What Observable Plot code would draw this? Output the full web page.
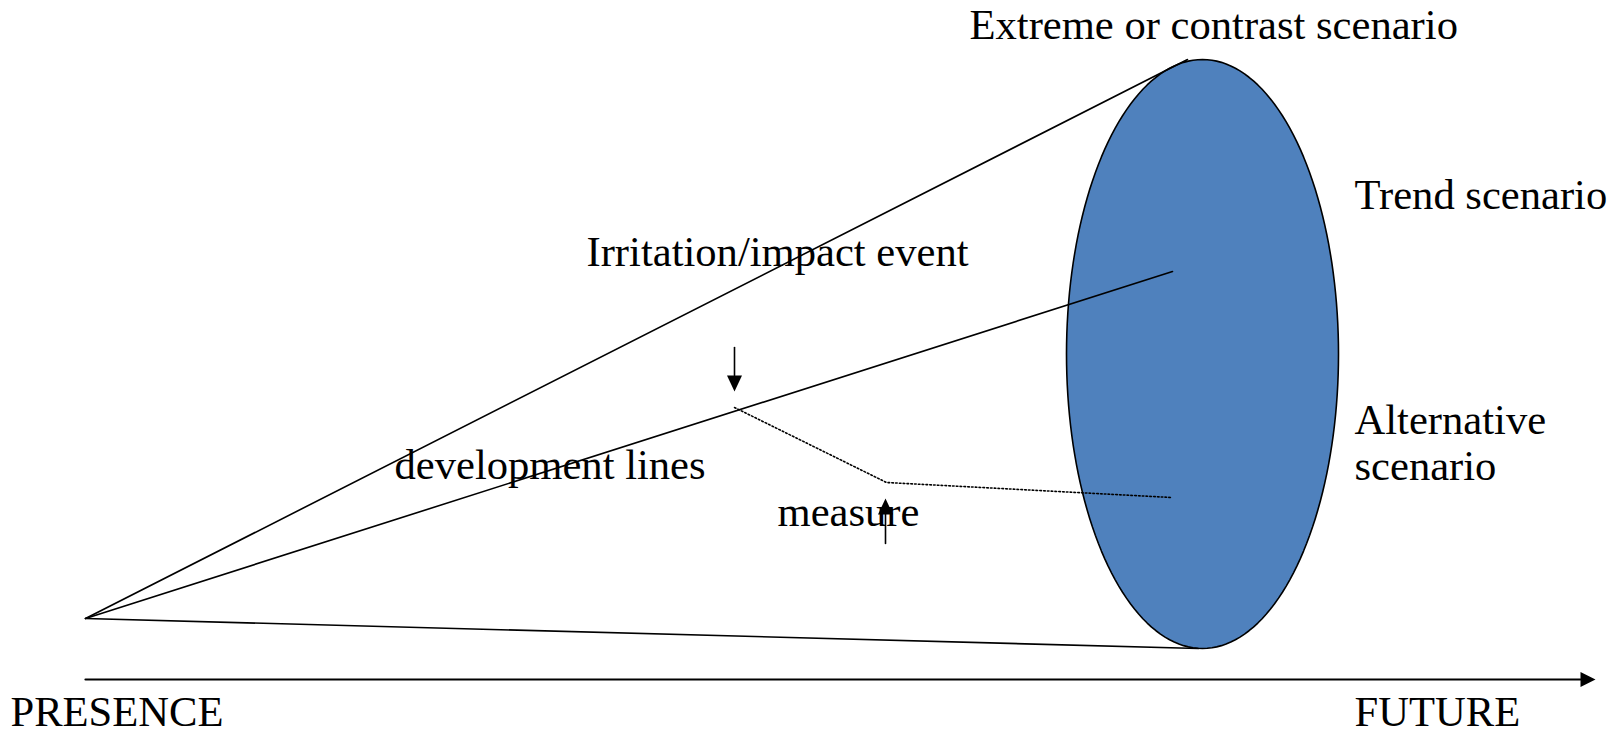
<!DOCTYPE html>
<html>
<head>
<meta charset="utf-8">
<script src="https://cdn.jsdelivr.net/npm/d3@7"></script>
<script src="https://cdn.jsdelivr.net/npm/@observablehq/plot@0.6"></script>
<style>
  html, body { margin: 0; padding: 0; background: #fff; }
  #chart svg { display: block; }
</style>
</head>
<body>
<div id="chart"></div>
<script>
// ---- Diagram data (diagram units) ----
const presence = { x: 85, y: 618 };                       // starting point: the present
const scenarioEnds = [                                     // where the development lines end
  { name: "Extreme or contrast scenario", x: 1187, y: 59 },
  { name: "Trend scenario",               x: 1172, y: 271 },
  { name: "Lower bound",                  x: 1198, y: 648 }
];
const disturbedPath = [                                    // disturbed development (dotted)
  { x: 734, y: 407 },
  { x: 886, y: 482 },
  { x: 1171, y: 497 }
];
const futureEllipse = { cx: 1202, cy: 353.5, rx: 136, ry: 294.5 };
const eventArrows = [
  { name: "impact event", x1: 734, y1: 347, x2: 734, y2: 391 },
  { name: "measure",      x1: 885, y1: 543, x2: 885, y2: 498 }
];
const timeAxis = { x1: 85, y1: 679, x2: 1595, y2: 679 };
const labels = [
  { text: "Extreme or contrast scenario", x: 969,  y: 38 },
  { text: "Trend scenario",               x: 1354, y: 208 },
  { text: "Irritation/impact event",      x: 586,  y: 265 },
  { text: "development lines",            x: 394,  y: 478 },
  { text: "measure",                      x: 777,  y: 525 },
  { text: "Alternative",                  x: 1354, y: 433 },
  { text: "scenario",                     x: 1354, y: 479 },
  { text: "PRESENCE",                     x: 10,   y: 725 },
  { text: "FUTURE",                       x: 1354, y: 725 }
];

// ---- Derived geometry ----
const ellipsePts = d3.range(0, 361, 2).map(a => {
  const t = a * Math.PI / 180;
  return { x: futureEllipse.cx + futureEllipse.rx * Math.cos(t),
           y: futureEllipse.cy + futureEllipse.ry * Math.sin(t) };
});
const devLines = scenarioEnds.flatMap((e, i) => [
  { id: i, x: presence.x, y: presence.y },
  { id: i, x: e.x, y: e.y }
]);

function arrowParts(a, len, half, id) {
  const dx = a.x2 - a.x1, dy = a.y2 - a.y1;
  const d = Math.hypot(dx, dy), ux = dx / d, uy = dy / d;
  const bx = a.x2 - ux * len, by = a.y2 - uy * len;
  return {
    shaft: [{ id, x: a.x1, y: a.y1 }, { id, x: bx, y: by }],
    head: [
      { id, x: a.x2, y: a.y2 },
      { id, x: bx - uy * half, y: by + ux * half },
      { id, x: bx + uy * half, y: by - ux * half },
      { id, x: a.x2, y: a.y2 }
    ]
  };
}
const smallArrows = eventArrows.map((a, i) => arrowParts(a, 16, 7.5, i));
const axisArrow = arrowParts(timeAxis, 15, 7.5, "axis");

const chart = Plot.plot({
  width: 1614,
  height: 735,
  margin: 0,
  x: { domain: [0, 1614], range: [0, 1614], axis: null },
  y: { domain: [0, 735], range: [0, 735], axis: null },
  style: { background: "#fff" },
  marks: [
    Plot.line(ellipsePts, { x: "x", y: "y", fill: "#4F81BD", stroke: "#000", strokeWidth: 1.6, curve: "linear" }),
    Plot.line(devLines, { x: "x", y: "y", z: "id", stroke: "#000", strokeWidth: 1.6 }),
    Plot.line(disturbedPath, { x: "x", y: "y", stroke: "#000", strokeWidth: 1.6, strokeDasharray: "1.6,2.2" }),
    Plot.line(smallArrows.flatMap(a => a.shaft), { x: "x", y: "y", z: "id", stroke: "#000", strokeWidth: 1.6 }),
    Plot.line(smallArrows.flatMap(a => a.head), { x: "x", y: "y", z: "id", fill: "#000", stroke: "none" }),
    Plot.line(axisArrow.shaft, { x: "x", y: "y", stroke: "#000", strokeWidth: 2.2 }),
    Plot.line(axisArrow.head, { x: "x", y: "y", fill: "#000", stroke: "none" }),
    Plot.text(labels, {
      x: "x", y: "y", text: "text",
      textAnchor: "start", lineAnchor: "bottom",
      fontSize: 42.6, fontFamily: "'Liberation Serif', 'Times New Roman', serif",
      fill: "#000"
    })
  ]
});
document.getElementById("chart").appendChild(chart);
</script>
</body>
</html>
